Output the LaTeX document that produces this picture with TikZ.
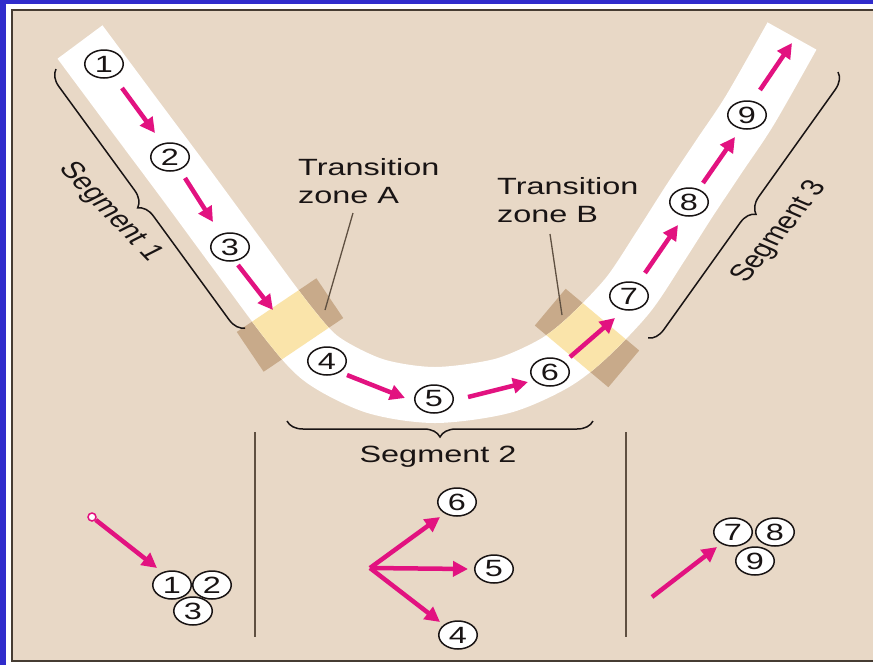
\documentclass[tikz,border=0pt]{standalone}
\usepackage{fontspec}
\setmainfont{Liberation Sans}
\usepackage{graphicx}
\usetikzlibrary{arrows.meta,shapes.geometric,decorations.pathreplacing}
\definecolor{bluebg}{RGB}{48,44,204}
\definecolor{beige}{RGB}{232,216,198}
\definecolor{frameC}{RGB}{70,60,50}
\definecolor{tanz}{RGB}{200,170,138}
\definecolor{yelz}{RGB}{250,228,170}
\definecolor{mag}{RGB}{226,18,128}
\definecolor{ink}{RGB}{25,20,20}
\definecolor{lead}{RGB}{95,80,65}
\newcommand{\sx}[1]{\scalebox{1.38}[1]{#1}}
\newcommand{\bandpts}{plot[smooth, tension=0.5] coordinates {(80,42) (135,116) (185,183) (235,251) (290,325) (323,360) (375,386) (435,395) (502,386) (553,364) (587,338) (628,295) (660,247) (690,200) (720,155) (750,110) (792,36)}}
\begin{document}
\begin{tikzpicture}[x=1pt,y=-1pt,
  lbl/.style={font=\fontsize{23.5}{28}\selectfont, text=ink, inner sep=0pt},
  num/.style={ellipse, draw=ink, line width=1.5pt, fill=white, minimum width=38.5pt, minimum height=28pt, inner sep=0pt, font=\fontsize{23.5}{28}\selectfont, text=ink},
  flow/.style={draw=mag, line width=4.5pt, -{Triangle[length=15pt,width=15pt]}},
  bandline/.style={line width=56pt, line cap=butt, line join=round},
  brc/.style={draw=ink, line width=1.5pt, decorate, decoration={brace, amplitude=16pt}},
  leader/.style={draw=lead, line width=1.3pt},
  divider/.style={draw=lead, line width=1.5pt}]
\useasboundingbox (0,0) rectangle (873,665);
% background and frame
\fill[bluebg] (0,0) rectangle (873,665);
\fill[white] (6,4) rectangle (873,665);
\filldraw[fill=beige, draw=frameC, line width=2.5pt] (12,10) rectangle (885,661);
% transition zones (outer tan part)
\fill[tanz, rotate around={-56:(290,325)}] (266,277) rectangle (314,373);
\fill[tanz, rotate around={50:(587,338)}] (563,290) rectangle (611,386);
% band
\draw[bandline, white] \bandpts;
\begin{scope}
\clip[rotate around={-56:(290,325)}] (266,277) rectangle (314,373);
\draw[bandline, yelz] \bandpts;
\end{scope}
\begin{scope}
\clip[rotate around={50:(587,338)}] (563,290) rectangle (611,386);
\draw[bandline, yelz] \bandpts;
\end{scope}
% labels of transition zones
\node[lbl, anchor=north west, align=left] (tzA) at (298,158) {\sx{Transition}\\\sx{zone A}};
\node[lbl, anchor=north west, align=left] (tzB) at (497,177) {\sx{Transition}\\\sx{zone B}};
\coordinate (lA1) at (353,213); \coordinate (lA2) at (325,310);
\coordinate (lB1) at (550,234); \coordinate (lB2) at (562,315);
\draw[leader] (lA1) -- (lA2);
\draw[leader] (lB1) -- (lB2);
% braces
\coordinate (b1s) at (245,328); \coordinate (b1e) at (56,69);
\coordinate (b2s) at (593,421); \coordinate (b2e) at (287,421);
\coordinate (b3s) at (838,72); \coordinate (b3e) at (648,338);
\draw[brc] (b1s) -- (b1e);
\draw[brc] (b2s) -- (b2e);
\draw[brc] (b3s) -- (b3e);
\begin{scope}[shift={(110,212)}, xscale=1.38]
\node[lbl, rotate=-55, transform shape] (seg1) at (0,0) {Segment 1};
\end{scope}
\begin{scope}[shift={(780,232)}, xscale=1.38]
\node[lbl, rotate=59, transform shape] (seg3) at (0,0) {Segment 3};
\end{scope}
\node[lbl, anchor=base] (seg2) at (438,462) {\sx{Segment 2}};
% circles on band
\node[num] (n1) at (104,64) {\sx{1}};
\node[num] (n2) at (170,157) {\sx{2}};
\node[num] (n3) at (230,247) {\sx{3}};
\node[num] (n4) at (327,361) {\sx{4}};
\node[num] (n5) at (434,399) {\sx{5}};
\node[num] (n6) at (550,372) {\sx{6}};
\node[num] (n7) at (629,296) {\sx{7}};
\node[num] (n8) at (689,202) {\sx{8}};
\node[num] (n9) at (747,115) {\sx{9}};
% arrows on band
\coordinate (a1s) at (122,88);  \coordinate (a1e) at (155,133);
\coordinate (a2s) at (185,178); \coordinate (a2e) at (213,222);
\coordinate (a3s) at (238,265); \coordinate (a3e) at (273,310);
\coordinate (a4s) at (347,375); \coordinate (a4e) at (405,398);
\coordinate (a5s) at (468,397); \coordinate (a5e) at (528,382);
\coordinate (a6s) at (570,357); \coordinate (a6e) at (615,318);
\coordinate (a7s) at (645,273); \coordinate (a7e) at (678,225);
\coordinate (a8s) at (703,183); \coordinate (a8e) at (735,137);
\coordinate (a9s) at (760,90);  \coordinate (a9e) at (792,43);
\foreach \i in {1,...,9} {\draw[flow] (a\i s) -- (a\i e);}
% dividers
\draw[divider] (255,432) -- (255,637);
\draw[divider] (626,432) -- (626,637);
% panel 1
\node[circle, draw=mag, fill=white, line width=1.5pt, minimum size=8pt, inner sep=0pt] (src) at (92,517) {};
\coordinate (t1) at (157,568);
\draw[flow] (src) -- (t1);
\node[num] (p3) at (193,611) {\sx{3}};
\node[num] (p1) at (172,585) {\sx{1}};
\node[num] (p2) at (212,585) {\sx{2}};
% panel 2
\coordinate (fork) at (370,568);
\coordinate (t6) at (440,517);
\coordinate (t5) at (468,569);
\coordinate (t4) at (440,622);
\draw[flow] (fork) -- (t6);
\draw[flow] (fork) -- (t5);
\draw[flow] (fork) -- (t4);
\node[num] (p6) at (457,502) {\sx{6}};
\node[num] (p5) at (494,569) {\sx{5}};
\node[num] (p4) at (458,635) {\sx{4}};
% panel 3
\coordinate (s7) at (652,597);
\coordinate (t7) at (717,547);
\draw[flow] (s7) -- (t7);
\node[num] (p9) at (755,561) {\sx{9}};
\node[num] (p7) at (733,532) {\sx{7}};
\node[num] (p8) at (775,532) {\sx{8}};
\end{tikzpicture}
\end{document}
